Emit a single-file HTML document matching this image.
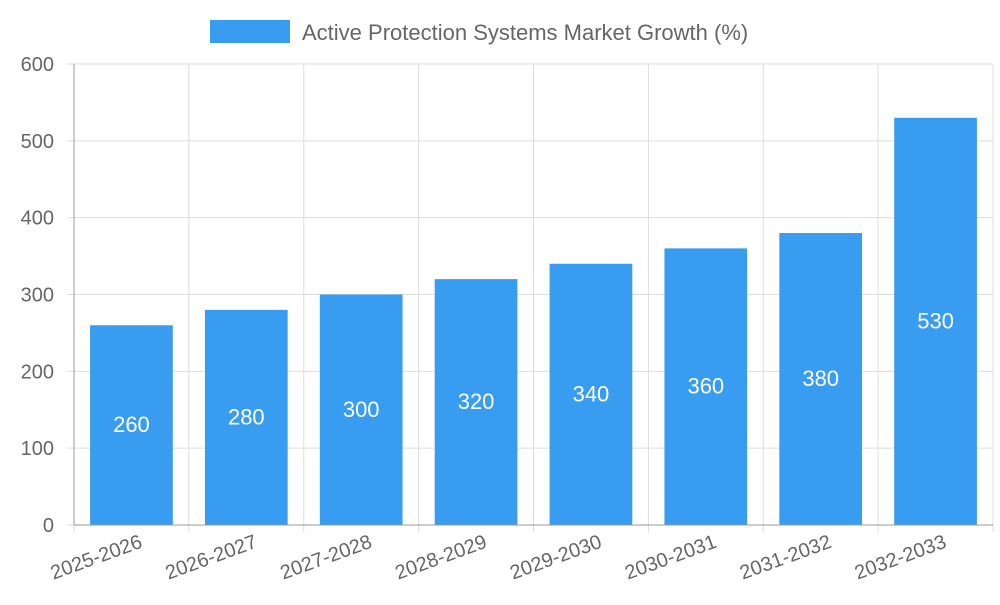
<!DOCTYPE html>
<html><head><meta charset="utf-8"><style>
body{margin:0;background:#fff;}
svg text{font-family:"Liberation Sans",sans-serif;}
</style></head><body>
<svg id="chart" width="1000" height="600" xmlns="http://www.w3.org/2000/svg">
<g id="legend">
<rect x="210" y="20" width="80" height="23" fill="#389cf0"></rect>
<text x="302" y="40" font-size="22" fill="#666">Active Protection Systems Market Growth (%)</text>
</g>
<g id="grid"></g><g id="bars"></g><g id="axes"></g>
</svg>
<script>
const categories=["2025-2026","2026-2027","2027-2028","2028-2029","2029-2030","2030-2031","2031-2032","2032-2033"];
const values=[260,280,300,320,340,360,380,530];
const yTicks=[0,100,200,300,400,500,600];
const L=74,R=993,T=64,B=525,yMax=600;
const ns="http://www.w3.org/2000/svg";
const bw=(R-L)/categories.length;
const y=v=>B-(v/yMax)*(B-T);
const x=i=>L+i*bw;
function mk(tag,attrs,parent){const e=document.createElementNS(ns,tag);for(const k in attrs)e.setAttribute(k,attrs[k]);document.getElementById(parent).appendChild(e);return e;}
yTicks.forEach(t=>{
 const l=mk('line',{x1:L-7,x2:R,y1:y(t),y2:y(t),stroke:'#ddd','stroke-width':1},'grid');
 
 
 const tx=mk('text',{x:L-20,y:y(t)+7,'font-size':20,fill:'#666','text-anchor':'end'},'axes');
 tx.textContent=t;
 
 
});
for(let i=0;i<=categories.length;i++){
 const l=mk('line',{x1:x(i),x2:x(i),y1:T,y2:B+7,stroke:'#ddd','stroke-width':1},'grid');
 
 
}
const ax=mk('line',{x1:L,x2:L,y1:T,y2:B,stroke:'#999','stroke-width':1},'axes');


const bx=mk('line',{x1:L,x2:R,y1:B,y2:B,stroke:'#999','stroke-width':1},'axes');


categories.forEach((c,i)=>{
 const v=values[i];
 const w=bw*0.72;
 const bx0=x(i)+(bw-w)/2;
 const r=mk('rect',{x:bx0,y:y(v),width:w,height:B-y(v),fill:'#389cf0'},'bars');
 
 
 const vt=mk('text',{x:x(i)+bw/2,y:y(v/2)+7,'font-size':22,fill:'#fff','text-anchor':'middle'},'bars');
 vt.textContent=v;
 
 
 const cx=x(i)+bw/2+12, cy=B+22;
 const ct=mk('text',{x:cx,y:cy,'font-size':20,fill:'#666','text-anchor':'end',transform:`rotate(-20 ${cx} ${cy})`},'axes');
 ct.textContent=c;
 
 
});
</script>
</body></html>
